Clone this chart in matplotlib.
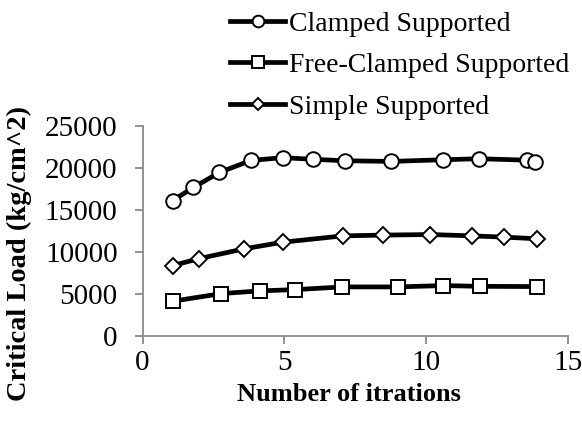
import matplotlib
matplotlib.use('Agg')
import matplotlib.pyplot as plt

# valeurs
x_clamped = [1.06, 1.79, 2.71, 3.82, 4.95, 6.01, 7.14, 8.76, 10.6, 11.87, 13.54, 13.85]
y_clamped = [16100, 17650, 19440, 20870, 21200, 21000, 20830, 20750, 20950, 21070, 20900, 20680]

x_free = [1.06, 2.78, 4.14, 5.39, 7.04, 8.99, 10.6, 11.89, 13.92]
y_free = [4130, 5040, 5360, 5510, 5830, 5830, 5990, 5900, 5870]

x_simple = [1.06, 2.0, 3.58, 4.95, 7.07, 8.48, 10.15, 11.61, 12.74, 13.92]
y_simple = [8370, 9200, 10360, 11150, 11900, 11990, 12060, 11900, 11750, 11550]

labels = ['Clamped Supported', 'Free-Clamped Supported', 'Simple Supported']
x_ticks = [0, 5, 10, 15]
y_ticks = [0, 5000, 10000, 15000, 20000, 25000]

plt.rcParams['font.family'] = ['Liberation Serif', 'DejaVu Serif']
grey = '#898989'

fig = plt.figure(figsize=(5.82, 4.21), dpi=100)
ax = fig.add_axes([0.245, 0.202, 0.731, 0.4995])

style = dict(color='black', linewidth=3.4, markerfacecolor='white',
             markeredgecolor='black', markeredgewidth=1.4)
ax.plot(x_clamped, y_clamped, marker='o', markersize=10.5, label=labels[0], **style)
ax.plot(x_free, y_free, marker='s', markersize=10, label=labels[1], **style)
ax.plot(x_simple, y_simple, marker='D', markersize=8, label=labels[2], **style)

ax.set_xlim(0, 15)
ax.set_ylim(0, 25000)
ax.set_xticks(x_ticks)
ax.set_yticks(y_ticks)
ax.tick_params(labelsize=21, color=grey, width=1.3, length=6, direction='out')
ax.tick_params(axis='y', pad=12)
ax.tick_params(axis='x', pad=4)
for side in ['top', 'right']:
    ax.spines[side].set_visible(False)
for side in ['left', 'bottom']:
    ax.spines[side].set_color(grey)
    ax.spines[side].set_linewidth(1.3)

ax.set_xlabel('Number of itrations', fontsize=19, fontweight='bold')
ax.xaxis.set_label_coords(0.485, -0.225)
ax.set_ylabel('Critical Load (kg/cm^2)', fontsize=20.5, fontweight='bold')
ax.yaxis.set_label_coords(-0.26, 0.39)

fig.legend(loc='upper left', bbox_to_anchor=(0.376, 1.0), frameon=False,
           fontsize=20, handlelength=2.0, handletextpad=0.12, labelspacing=0.58,
           markerscale=0.8, borderaxespad=0)

fig.savefig('out.png', dpi=100)
